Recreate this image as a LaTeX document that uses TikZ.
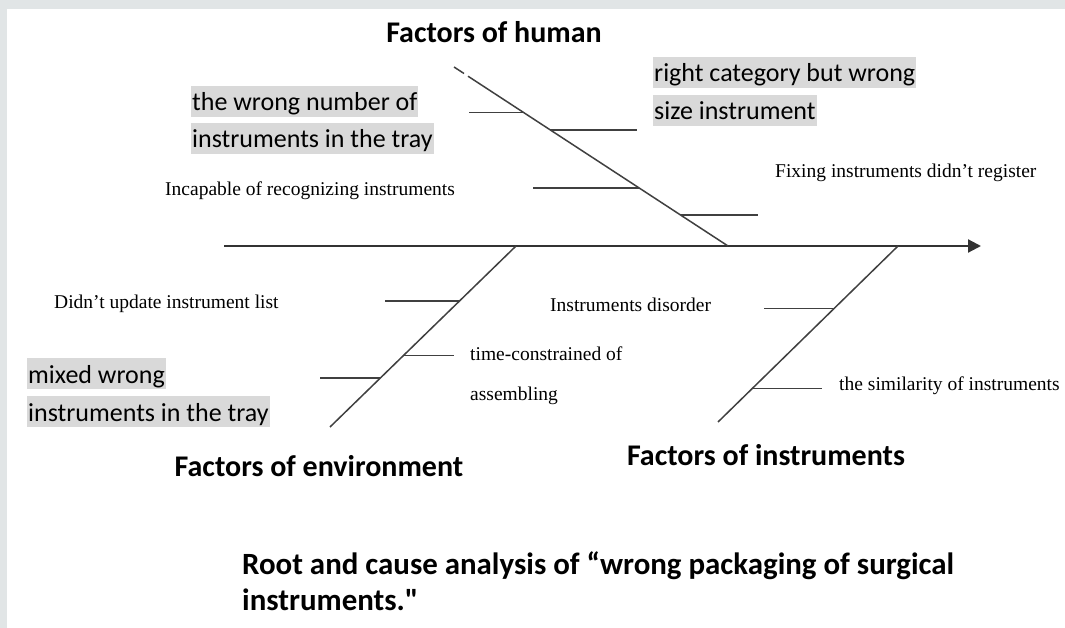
\documentclass[tikz,border=0pt]{standalone}
\usepackage{fontspec}
\setmainfont{Liberation Serif}
\newfontfamily\calibri{Carlito}
\usetikzlibrary{arrows.meta}
\definecolor{framegray}{HTML}{E1E5E6}
\definecolor{hlgray}{HTML}{D9D9D9}
\tikzset{
  bone/.style={draw=black!75, line width=1.5pt},
  spine/.style={draw=black!80, line width=2.2pt, -{Triangle[length=13pt,width=13pt]}},
  cause/.style={anchor=base west, inner sep=0pt, font=\fontsize{19.5}{23}\selectfont},
  hilite/.style={anchor=base west, fill=hlgray, inner xsep=1pt, inner ysep=0pt,
    text height=25pt, text depth=6pt, font=\calibri\fontsize{26}{30}\selectfont},
  factor/.style={anchor=base, inner sep=0pt, font=\calibri\bfseries\fontsize{30}{36}\selectfont},
  caption/.style={anchor=base west, inner sep=0pt, font=\calibri\bfseries\fontsize{30.9}{36}\selectfont},
}
\begin{document}
\begin{tikzpicture}[x=1pt,y=-1pt]
  \useasboundingbox (0,0) rectangle (1065,628);
  \fill[framegray] (0,0) rectangle (1065,628);
  \fill[white] (7,9) rectangle (1065,628);
  % spine
  \coordinate (tail) at (224,246);
  \coordinate (head) at (981,246);
  \draw[spine] (tail) -- (head);
  % factors of human
  \coordinate (hTop) at (454,67);
  \coordinate (hTick) at (464,73.5);
  \coordinate (hStart) at (468,76.2);
  \coordinate (hFoot) at (728,246);
  \draw[bone] (hTop) -- (hTick);
  \draw[bone] (hStart) -- (hFoot);
  \coordinate (h1) at (523.6,112.5); \coordinate (h1e) at (469,112.5);
  \coordinate (h2) at (550.4,130);   \coordinate (h2e) at (637,130);
  \coordinate (h3) at (639.2,188);   \coordinate (h3e) at (533,188);
  \coordinate (h4) at (680.5,215);   \coordinate (h4e) at (758,215);
  \draw[bone] (h1e) -- (h1);
  \draw[bone] (h2) -- (h2e);
  \draw[bone] (h3e) -- (h3);
  \draw[bone] (h4) -- (h4e);
  % factors of environment
  \coordinate (eTop) at (516,246);
  \coordinate (eFoot) at (330,427);
  \draw[bone] (eTop) -- (eFoot);
  \coordinate (e1) at (459.5,301);   \coordinate (e1e) at (385,301);
  \coordinate (e2) at (403.5,355.5); \coordinate (e2e) at (454,355.5);
  \coordinate (e3) at (380.4,378);   \coordinate (e3e) at (320,378);
  \draw[bone] (e1e) -- (e1);
  \draw[bone] (e2) -- (e2e);
  \draw[bone] (e3e) -- (e3);
  % factors of instruments
  \coordinate (iTop) at (898,246);
  \coordinate (iFoot) at (718,422);
  \draw[bone] (iTop) -- (iFoot);
  \coordinate (i1) at (834.1,308.5); \coordinate (i1e) at (764,308.5);
  \coordinate (i2) at (752.3,388.5); \coordinate (i2e) at (822,388.5);
  \draw[bone] (i1e) -- (i1);
  \draw[bone] (i2) -- (i2e);
  % labels
  \node[factor] (human) at (494,43) {Factors of human};
  \node[factor] (environment) at (319,476) {Factors of environment};
  \node[factor] (instruments) at (766,465) {Factors of instruments};
  \node[hilite] (number1) at (191,111) {the wrong number of\ };
  \node[hilite] (number2) at (191,148) {instruments in the tray};
  \node[hilite] (category1) at (653,82) {right category but wrong\ };
  \node[hilite] (category2) at (653,120) {size instrument};
  \node[hilite] (mixed1) at (27,383) {mixed wrong\ };
  \node[hilite] (mixed2) at (27,421) {instruments in the tray};
  \node[cause] (recognize) at (165,196) {Incapable of recognizing instruments};
  \node[cause] (register) at (775,178) {Fixing instruments didn’t register};
  \node[cause] (update) at (54,308) {Didn’t update instrument list};
  \node[cause] (disorder) at (550,311) {Instruments disorder};
  \node[cause] (time1) at (470,360) {time-constrained of};
  \node[cause] (time2) at (470,400) {assembling};
  \node[cause] (similar) at (839,390) {the similarity of instruments};
  \node[caption] (title1) at (242,574) {Root and cause analysis of “wrong packaging of surgical};
  \node[caption] (title2) at (242,610) {instruments."};
\end{tikzpicture}
\end{document}
